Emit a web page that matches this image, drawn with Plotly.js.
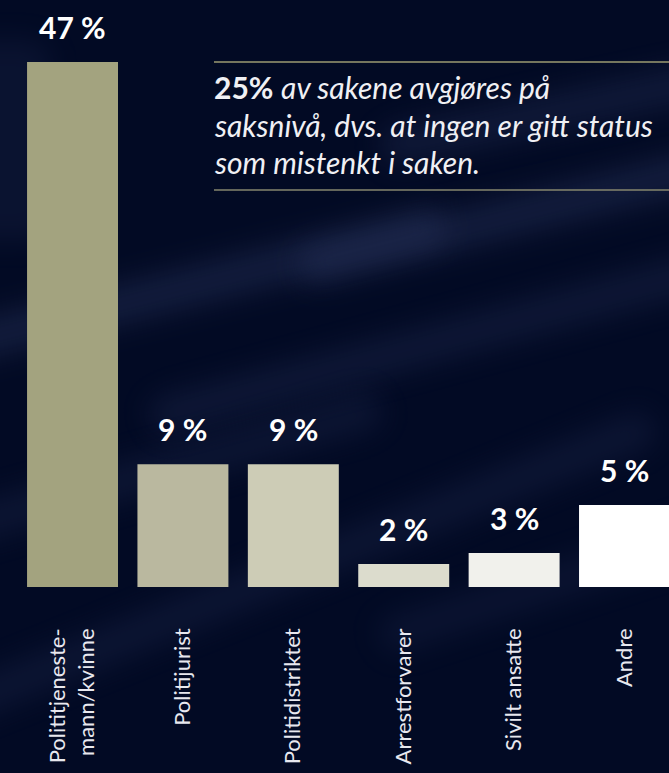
<!DOCTYPE html>
<html>
<head>
<meta charset="utf-8">
<script src="https://cdn.plot.ly/plotly-3.0.1.min.js"></script>
<style>
html,body{margin:0;padding:0;width:669px;height:773px;overflow:hidden;background:#020a24;}
#bg{position:absolute;left:0;top:0;width:669px;height:773px;overflow:hidden;}
.st{position:absolute;height:38px;background:rgba(40,52,92,0.45);filter:blur(14px);transform-origin:0 50%;border-radius:20px;}
#chart{position:absolute;left:0;top:0;width:669px;height:773px;}
</style>
</head>
<body>
<div id="bg">
  <div class="st" style="left:-60px;top:330px;width:520px;transform:rotate(-14deg);"></div>
  <div class="st" style="left:300px;top:250px;width:500px;transform:rotate(-14deg);"></div>
  <div class="st" style="left:150px;top:400px;width:600px;transform:rotate(-15deg);opacity:0.7"></div>
  <div class="st" style="left:-80px;top:520px;width:480px;transform:rotate(-16deg);opacity:0.6"></div>
  <div class="st" style="left:380px;top:130px;width:360px;transform:rotate(-12deg);opacity:0.8"></div>
  <div class="st" style="left:-50px;top:690px;width:760px;transform:rotate(-22deg);opacity:0.6"></div>
  <div class="st" style="left:-40px;top:40px;width:90px;height:200px;transform:rotate(0deg);opacity:0.5"></div>
  <div class="st" style="left:380px;top:620px;width:400px;transform:rotate(-18deg);opacity:0.5"></div>
</div>
<div id="chart"></div>
<script>
const categories = ["Polititjeneste-<br>mann/kvinne", "Politijurist", "Politidistriktet", "Arrestforvarer", "Sivilt ansatte", "Andre"];
const barHeights = [47, 11.0, 11.0, 2.06, 3.04, 7.34];
const valueLabels = ["47 %", "9 %", "9 %", "2 %", "3 %", "5 %"];
const barColors = ["#a3a37f", "#bab89f", "#cdccb6", "#dcdccd", "#f1f1ec", "#ffffff"];
const noteLines = [
  "<b>25%</b> <i>av sakene avgjøres på</i>",
  "<i>saksnivå, dvs. at ingen er gitt status</i>",
  "<i>som mistenkt i saken.</i>"
];

const W = 669, H = 773, plotH = 587;
const py = p => (plotH - p) / plotH;

const annotations = categories.map((c, i) => ({
  x: c, y: barHeights[i], xref: 'x', yref: 'y',
  text: valueLabels[i], showarrow: false, yanchor: 'bottom', yshift: 15,
  font: {family: 'Lato, sans-serif', size: 30, color: '#ffffff', weight: 700}
}));
noteLines.forEach((t, i) => {
  annotations.push({
    x: 212 / W, y: py(87 + 37.5 * i), xref: 'paper', yref: 'paper',
    xanchor: 'left', yanchor: 'middle', text: t, showarrow: false,
    font: {family: 'Lato, sans-serif', size: 30, color: '#f0f0f4'}
  });
});

const data = [{
  type: 'bar', x: categories, y: barHeights,
  marker: {color: barColors, line: {width: 0}},
  hoverinfo: 'none'
}];

const layout = {
  width: W, height: H,
  margin: {l: 0, r: 0, t: 0, b: H - plotH, pad: 0},
  paper_bgcolor: 'rgba(0,0,0,0)', plot_bgcolor: 'rgba(0,0,0,0)',
  bargap: 0.176,
  showlegend: false,
  xaxis: {
    range: [-0.657, 5.403], tickangle: -90, showgrid: false, zeroline: false,
    showline: false, ticks: '', ticklabelstandoff: 36,
    tickfont: {family: 'Lato, sans-serif', size: 22, color: '#e8e8ef'}
  },
  yaxis: {range: [0, 52.55], visible: false, fixedrange: true},
  shapes: [
    {type: 'line', xref: 'paper', yref: 'paper', x0: 214 / W, x1: 1, y0: py(62), y1: py(62), line: {color: '#9d9b72', width: 1.5}},
    {type: 'line', xref: 'paper', yref: 'paper', x0: 214 / W, x1: 1, y0: py(190), y1: py(190), line: {color: '#86866e', width: 1.5}}
  ],
  annotations: annotations
};

Plotly.newPlot('chart', data, layout, {displayModeBar: false, staticPlot: true});
</script>
</body>
</html>
